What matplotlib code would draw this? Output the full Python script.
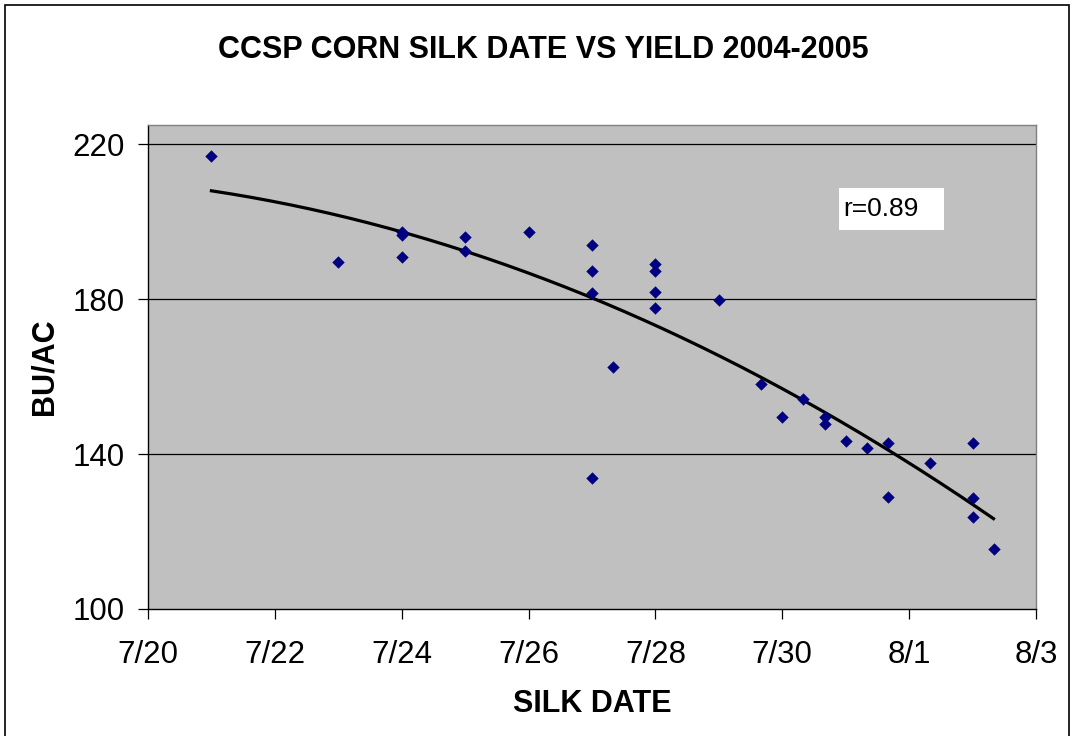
import matplotlib.pyplot as plt
import numpy as np
from matplotlib.patches import Rectangle

plt.rcParams['font.family'] = ['Liberation Sans', 'DejaVu Sans']

# silk date as days after 7/20, yield in bu/ac
silk_day = [1, 3, 4, 4, 4, 5, 5, 6, 7, 7, 7, 7, 7.33, 8, 8, 8, 8, 9,
            9.67, 10, 10.33, 10.67, 10.67, 11, 11.33, 11.67, 11.67, 12.33,
            13, 13, 13, 13.33]
yield_bu = [217, 189.5, 197.3, 196.5, 190.9, 196.2, 192.5, 197.3, 194, 187.4,
            181.5, 133.8, 162.4, 189.2, 187.2, 181.9, 177.7, 179.7,
            158, 149.6, 154.2, 149.7, 147.8, 143.5, 141.6, 142.8, 128.8, 137.8,
            142.8, 128.6, 123.7, 115.5]
tick_days = [0, 2, 4, 6, 8, 10, 12, 14]
tick_labels = ["7/20", "7/22", "7/24", "7/26", "7/28", "7/30", "8/1", "8/3"]
y_ticks = [100, 140, 180, 220]
r_text = "r=0.89"

x = np.array(silk_day)
y = np.array(yield_bu)

fig = plt.figure(figsize=(10.73, 7.36), dpi=100)
fig.patches.append(Rectangle((5 / 1073, -0.01), 1064 / 1073, 1 - 5 / 736 + 0.01,
                             transform=fig.transFigure, fill=False,
                             edgecolor='black', linewidth=1.2))

ax = fig.add_axes([148 / 1073, 1 - 609 / 736, 888 / 1073, 484 / 736])
ax.set_facecolor('#C0C0C0')

for v in y_ticks[1:]:
    ax.axhline(v, color='black', linewidth=0.9, zorder=1)

# 2nd order trend line
coef = np.polyfit(x, y, 2)
xx = np.linspace(x.min(), x.max(), 200)
ax.plot(xx, np.polyval(coef, xx), color='black', linewidth=2.3, zorder=2)

ax.scatter(x, y, marker='D', s=40, color='#000080', linewidths=0, zorder=3)

ax.set_xlim(0, 14)
ax.set_ylim(100, 225)
ax.set_xticks(tick_days)
ax.set_xticklabels(tick_labels, fontsize=22.5)
ax.set_yticks(y_ticks)
ax.set_yticklabels([str(v) for v in y_ticks], fontsize=22.5)
ax.tick_params(direction='out', length=7, width=0.9, color='black')
ax.tick_params(axis='x', pad=15)
ax.tick_params(axis='y', pad=10)

for side in ['left', 'bottom']:
    ax.spines[side].set_color('black')
    ax.spines[side].set_linewidth(1.0)
for side in ['top', 'right']:
    ax.spines[side].set_color('#808080')
    ax.spines[side].set_linewidth(1.0)

ax.set_xlabel("SILK DATE", fontsize=22, fontweight='bold')
ax.xaxis.set_label_coords(0.5, -0.165)
ax.set_ylabel("BU/AC", fontsize=22, fontweight='bold')
ax.yaxis.set_label_coords(-0.100, 0.5)

fig.text(543 / 1073, 1 - 50 / 736, "CCSP CORN SILK DATE VS YIELD 2004-2005",
         fontsize=22, fontweight='bold', ha='center', va='center')

ax.add_patch(Rectangle((0.778, 0.783), 0.118, 0.087, transform=ax.transAxes,
                       facecolor='white', edgecolor='none', zorder=4))
ax.text(0.7825, 0.826, r_text, transform=ax.transAxes, fontsize=19,
        ha='left', va='center', zorder=5)

fig.savefig("out.png", dpi=100)
